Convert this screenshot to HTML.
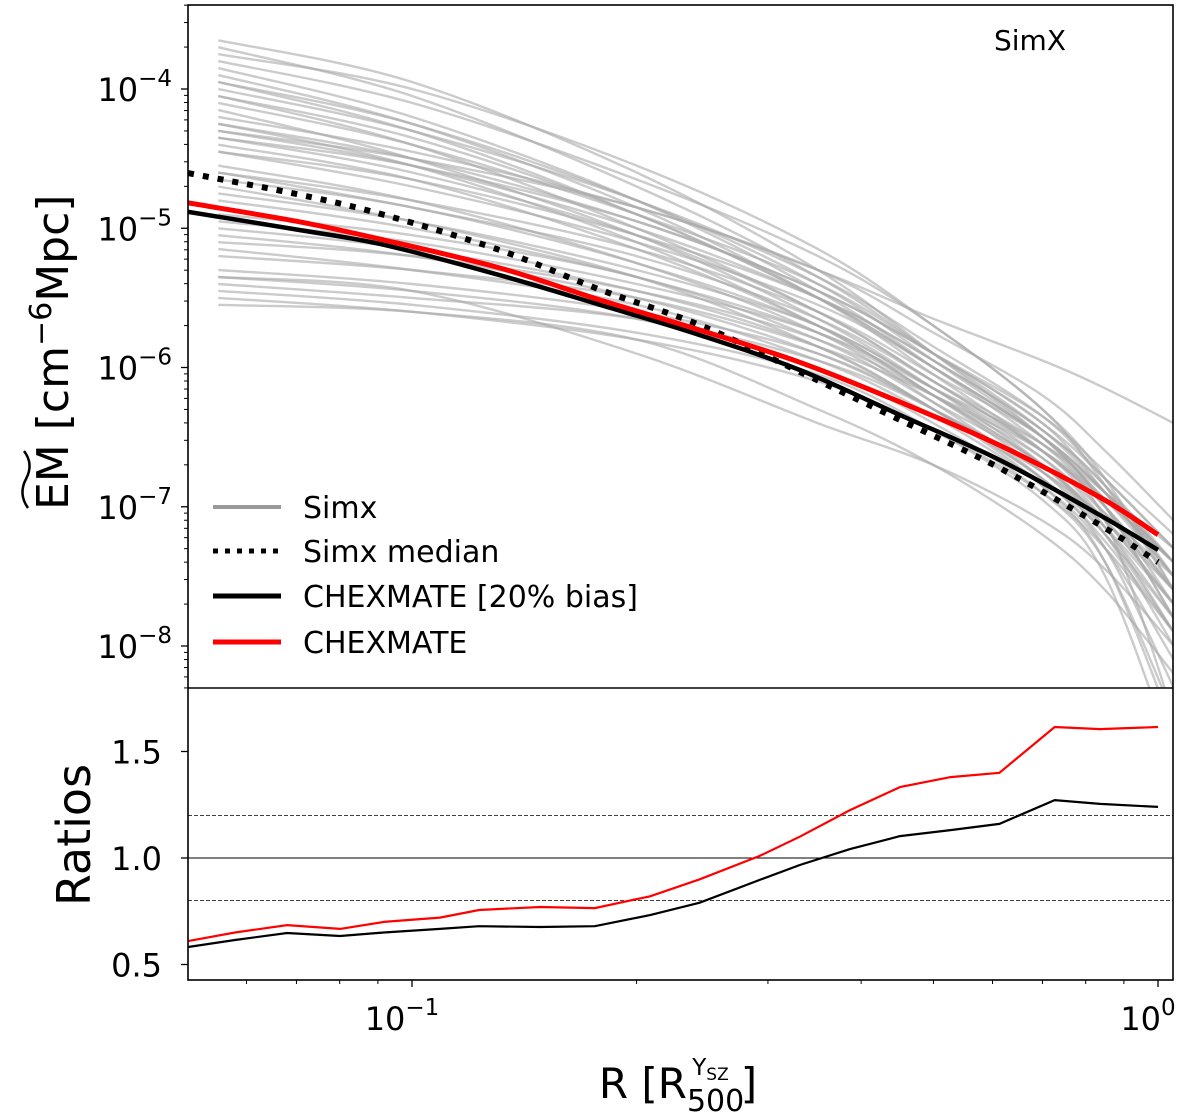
<!DOCTYPE html>
<html><head><meta charset="utf-8">
<style>
html,body{margin:0;padding:0;background:#fff;}
svg{display:block;font-family:"DejaVu Sans","Liberation Sans",sans-serif;}
</style></head>
<body>
<svg id="chart" width="1200" height="1120" viewBox="0 0 1200 1120" xmlns="http://www.w3.org/2000/svg">
<defs>
<clipPath id="clipTop"><rect x="188" y="5" width="985" height="683"/></clipPath>
<clipPath id="clipBot"><rect x="188" y="688" width="985" height="292"/></clipPath>
</defs>
<g id="grey" clip-path="url(#clipTop)"></g>
<g id="main" clip-path="url(#clipTop)"></g>
<g id="ratio" clip-path="url(#clipBot)"></g>
<g id="axes"></g>
<text x="1030" y="50" font-size="28" text-anchor="middle">SimX</text>
<g font-size="30">
  <g><line x1="213" y1="507" x2="281" y2="507" stroke="#999" stroke-width="4"/><text x="303" y="518">Simx</text></g>
  <g><line x1="213" y1="551" x2="281" y2="551" stroke="#000" stroke-width="5" stroke-dasharray="5 7"/><text x="303" y="562">Simx median</text></g>
  <g><line x1="213" y1="596" x2="281" y2="596" stroke="#000" stroke-width="5"/><text x="303" y="607">CHEXMATE [20% bias]</text></g>
  <g><line x1="213" y1="642" x2="281" y2="642" stroke="#f00" stroke-width="5"/><text x="303" y="653">CHEXMATE</text></g>
</g>
<g transform="translate(68,0) rotate(-90)">
  <text x="-510" y="0" font-size="44" text-anchor="start">EM [cm<tspan font-size="30" dy="-17">−6</tspan><tspan dy="17">Mpc]</tspan></text>
  <path d="M-508 -40 Q-494 -50 -479 -42 T-451 -44" fill="none" stroke="#000" stroke-width="2.5"/>
</g>
<text transform="translate(90,835) rotate(-90)" font-size="46" text-anchor="middle">Ratios</text>
<text x="678" y="1098" font-size="42" text-anchor="middle">R [R<tspan font-size="30" dy="13">500</tspan><tspan font-size="23" dx="-52" dy="-36">Y</tspan><tspan font-size="17" dy="5">SZ</tspan><tspan font-size="42" dx="12" dy="18">]</tspan></text>
</svg>
<script>
// ---- data ----
const greyR = [0.055, 0.1, 0.2, 0.35, 0.5, 0.7, 0.85, 1.05];
const greyLogEM = [
[-3.65,-3.95,-4.6,-5.3,-5.9,-6.5,-7.0,-7.8],
[-3.7,-4.05,-4.7,-5.35,-5.9,-6.45,-6.9,-7.5],
[-3.8,-4.1,-4.65,-5.2,-5.7,-6.3,-6.8,-7.6],
[-3.85,-4.2,-4.8,-5.45,-6.0,-6.55,-7.0,-7.7],
[-3.9,-4.25,-4.85,-5.5,-6.05,-6.6,-7.1,-8.5],
[-3.95,-4.3,-4.9,-5.5,-6.0,-6.5,-6.95,-7.4],
[-4.0,-4.3,-4.8,-5.35,-5.85,-6.35,-6.8,-7.3],
[-4.05,-4.4,-5.0,-5.6,-6.1,-6.6,-7.05,-7.6],
[-4.1,-4.4,-4.9,-5.4,-5.9,-6.4,-6.9,-7.5],
[-4.15,-4.5,-5.05,-5.65,-6.15,-6.7,-7.2,-8.0],
[-4.2,-4.45,-4.85,-5.3,-5.75,-6.2,-6.6,-7.1],
[-4.25,-4.55,-5.1,-5.7,-6.2,-6.75,-7.2,-7.8],
[-4.3,-4.55,-5.0,-5.5,-5.95,-6.45,-6.85,-7.4],
[-4.35,-4.6,-5.05,-5.6,-6.1,-6.6,-7.0,-7.6],
[-4.4,-4.65,-5.15,-5.7,-6.2,-6.7,-7.15,-7.9],
[-4.45,-4.7,-5.1,-5.55,-6.0,-6.5,-6.9,-7.4],
[-4.3,-4.5,-4.85,-5.3,-5.65,-5.95,-6.15,-6.4],
[-4.55,-4.8,-5.25,-5.75,-6.25,-6.8,-7.3,-8.3],
[-4.6,-4.85,-5.2,-5.65,-6.1,-6.55,-6.95,-7.5],
[-4.65,-4.85,-5.25,-5.7,-6.15,-6.65,-7.1,-7.7],
[-4.7,-4.95,-5.35,-5.85,-6.3,-6.85,-7.4,-8.6],
[-4.8,-5.0,-5.35,-5.75,-6.2,-6.7,-7.1,-7.6],
[-4.9,-5.05,-5.35,-5.8,-6.25,-6.7,-7.15,-7.8],
[-5.0,-5.15,-5.45,-5.85,-6.3,-6.8,-7.2,-7.9],
[-5.1,-5.2,-5.45,-5.8,-6.2,-6.65,-7.05,-7.5],
[-5.15,-5.3,-5.55,-5.95,-6.35,-6.85,-7.3,-8.1],
[-5.2,-5.3,-5.5,-5.85,-6.2,-6.6,-6.95,-7.4],
[-5.3,-5.4,-5.6,-5.9,-6.3,-6.8,-7.25,-7.9],
[-5.35,-5.45,-5.65,-6.0,-6.4,-6.9,-7.4,-8.5],
[-5.4,-5.5,-5.65,-5.95,-6.3,-6.75,-7.15,-7.7],
[-5.45,-5.55,-5.75,-6.05,-6.45,-6.95,-7.5,-8.8],
[-5.5,-5.6,-5.8,-6.1,-6.45,-6.9,-7.3,-7.9],
[-5.55,-5.6,-5.8,-6.3,-6.7,-7.2,-7.6,-8.2],
[-5.35,-5.45,-5.9,-6.4,-6.7,-7.1,-7.45,-8.0],
[-4.95,-5.1,-5.4,-5.75,-6.15,-6.55,-6.9,-7.3],
[-3.75,-4.0,-4.55,-5.15,-5.7,-6.3,-6.85,-7.6],
[-4.05,-4.35,-4.9,-5.5,-6.0,-6.5,-6.9,-7.4],
[-4.25,-4.5,-4.95,-5.45,-5.9,-6.4,-6.8,-7.3],
[-4.45,-4.65,-5.05,-5.5,-5.95,-6.45,-6.85,-7.5],
[-4.6,-4.8,-5.15,-5.6,-6.05,-6.5,-6.9,-7.4],
[-4.75,-4.95,-5.3,-5.7,-6.15,-6.6,-7.0,-7.6],
[-5.05,-5.2,-5.5,-5.9,-6.3,-6.75,-7.1,-7.7],
[-3.95,-4.25,-4.8,-5.4,-5.95,-6.5,-7.0,-7.8],
[-4.35,-4.55,-4.95,-5.45,-5.9,-6.35,-6.75,-7.2]
];
const profR = [0.0501, 0.0708, 0.0917, 0.131, 0.179, 0.243, 0.331, 0.451, 0.613, 0.836, 1.0];
const medianEM = [2.49e-5, 1.74e-5, 1.25e-5, 6.98e-6, 3.61e-6, 2.02e-6, 9.3e-7, 4.2e-7, 1.9e-7, 7.4e-8, 4.0e-8];
const biasEM = [1.31e-5, 9.7e-6, 7.6e-6, 4.61e-6, 2.81e-6, 1.71e-6, 9.6e-7, 4.56e-7, 2.17e-7, 8.7e-8, 4.9e-8];
const chexEM = [1.52e-5, 1.11e-5, 8.24e-6, 5.19e-6, 3.05e-6, 1.86e-6, 1.09e-6, 5.65e-7, 2.77e-7, 1.17e-7, 6.3e-8];
const ratioR = [0.0501, 0.0579, 0.068, 0.0801, 0.0917, 0.109, 0.123, 0.1484, 0.1758, 0.2085, 0.243, 0.2925, 0.331, 0.3865, 0.451, 0.527, 0.613, 0.727, 0.836, 1.0];
const ratioChex = [0.61, 0.65, 0.685, 0.667, 0.70, 0.72, 0.756, 0.77, 0.765, 0.82, 0.90, 1.01, 1.10, 1.225, 1.333, 1.38, 1.40, 1.615, 1.605, 1.615];
const ratioBias = [0.582, 0.615, 0.648, 0.634, 0.65, 0.667, 0.68, 0.676, 0.68, 0.732, 0.79, 0.897, 0.967, 1.042, 1.103, 1.131, 1.16, 1.272, 1.254, 1.24];
const yTopTicks = [-4, -5, -6, -7, -8];
const yBotTicks = [0.5, 1.0, 1.5];
const xTicks = [-1, 0];

// ---- scales ----
const X0 = 188, X1 = 1173, YT0 = 5, YT1 = 688, YB1 = 980;
const px10 = 412, decade = 746;
const xs = r => px10 + (Math.log10(r) + 1) * decade;
const ysTopLog = l => 89 + (-4 - l) * 139.25;
const ysTop = v => ysTopLog(Math.log10(v));
const ysBot = v => 858 - (v - 1) * 213;
const NS = 'http://www.w3.org/2000/svg';
function mk(tag, attrs, parent) {
  const e = document.createElementNS(NS, tag);
  for (const k in attrs) e.setAttribute(k, attrs[k]);
  parent.appendChild(e); return e;
}
function pathD(xsArr, ysArr, fx, fy) {
  return xsArr.map((x, i) => (i ? 'L' : 'M') + fx(x).toFixed(1) + ' ' + fy(ysArr[i]).toFixed(1)).join(' ');
}
function smoothD(xsArr, ysArr, fx, fy) {
  const P = xsArr.map((x, i) => [fx(x), fy(ysArr[i])]);
  let d = 'M' + P[0][0].toFixed(1) + ' ' + P[0][1].toFixed(1);
  for (let i = 0; i < P.length - 1; i++) {
    const p0 = P[Math.max(0, i - 1)], p1 = P[i], p2 = P[i + 1], p3 = P[Math.min(P.length - 1, i + 2)];
    const c1 = [p1[0] + (p2[0] - p0[0]) / 6, p1[1] + (p2[1] - p0[1]) / 6];
    const c2 = [p2[0] - (p3[0] - p1[0]) / 6, p2[1] - (p3[1] - p1[1]) / 6];
    d += ' C' + c1[0].toFixed(1) + ' ' + c1[1].toFixed(1) + ' ' + c2[0].toFixed(1) + ' ' + c2[1].toFixed(1) + ' ' + p2[0].toFixed(1) + ' ' + p2[1].toFixed(1);
  }
  return d;
}
const gGrey = document.getElementById('grey');
greyLogEM.forEach((row, i) => {
  const p = mk('path', {d: smoothD(greyR, row, xs, ysTopLog), fill: 'none', stroke: '#a9a9a9', 'stroke-opacity': '0.6', 'stroke-width': '2.4'}, gGrey);
  
  
});
const gMain = document.getElementById('main');
let p;
p = mk('path', {d: smoothD(profR, medianEM, xs, ysTop), fill: 'none', stroke: '#000', 'stroke-width': '6', 'stroke-dasharray': '6 9'}, gMain);


p = mk('path', {d: smoothD(profR, biasEM, xs, ysTop), fill: 'none', stroke: '#000', 'stroke-width': '4.5'}, gMain);


p = mk('path', {d: smoothD(profR, chexEM, xs, ysTop), fill: 'none', stroke: '#f00', 'stroke-width': '5'}, gMain);



const gR = document.getElementById('ratio');
[[1.2,'4 2'],[0.8,'4 2'],[1.0,'']].forEach(([v, dash]) => {
  const l = mk('line', {x1: X0, x2: X1, y1: ysBot(v), y2: ysBot(v), stroke: '#000', 'stroke-width': dash ? '0.8' : '1'}, gR);
  if (dash) l.setAttribute('stroke-dasharray', dash);
  
  
});
p = mk('path', {d: pathD(ratioR, ratioBias, xs, ysBot), fill: 'none', stroke: '#000', 'stroke-width': '2.2'}, gR);


p = mk('path', {d: pathD(ratioR, ratioChex, xs, ysBot), fill: 'none', stroke: '#f00', 'stroke-width': '2.2'}, gR);



// ---- axes ----
const gA = document.getElementById('axes');
let f = mk('rect', {x: X0, y: YT0, width: X1 - X0, height: YB1 - YT0, fill: 'none', stroke: '#000', 'stroke-width': '1.6'}, gA);


f = mk('line', {x1: X0, x2: X1, y1: YT1, y2: YT1, stroke: '#000', 'stroke-width': '1.6'}, gA);


for (let d = -3; d >= -9; d--) {
  for (let m = 1; m <= 9; m++) {
    const y = ysTopLog(d + Math.log10(m));
    if (y < YT0 || y > YT1) continue;
    mk('line', {x1: X0, x2: X0 - (m === 1 ? 7 : 4), y1: y, y2: y, stroke: '#000', 'stroke-width': m === 1 ? 1.3 : 1}, gA);
  }
}
yTopTicks.forEach(t => {
  const tx = mk('text', {x: 172, y: ysTopLog(t) + 12, 'font-size': '32', 'text-anchor': 'end'}, gA);
  
  
  tx.innerHTML = '10<tspan font-size="23" dy="-15">−' + (-t) + '</tspan>';
});
yBotTicks.forEach(t => {
  mk('line', {x1: X0, x2: X0 - 7, y1: ysBot(t), y2: ysBot(t), stroke: '#000', 'stroke-width': 1.3}, gA);
  const tx = mk('text', {x: 162, y: ysBot(t) + 12, 'font-size': '32', 'text-anchor': 'end'}, gA);
  
  
  tx.textContent = t.toFixed(1);
});
for (let d = -2; d <= 0; d++) {
  for (let m = 1; m <= 9; m++) {
    const x = xs(m * Math.pow(10, d));
    if (x < X0 - 0.5 || x > X1) continue;
    mk('line', {x1: x, x2: x, y1: YB1, y2: YB1 + (m === 1 ? 7 : 4), stroke: '#000', 'stroke-width': m === 1 ? 1.3 : 1}, gA);
  }
}
xTicks.forEach(t => {
  const tx = mk('text', {x: xs(Math.pow(10, t)) - 10, y: 1030, 'font-size': '32', 'text-anchor': 'middle'}, gA);
  
  
  tx.innerHTML = '10<tspan font-size="23" dy="-15">' + (t < 0 ? '−' + (-t) : '0') + '</tspan>';
});
</script>
</body></html>
